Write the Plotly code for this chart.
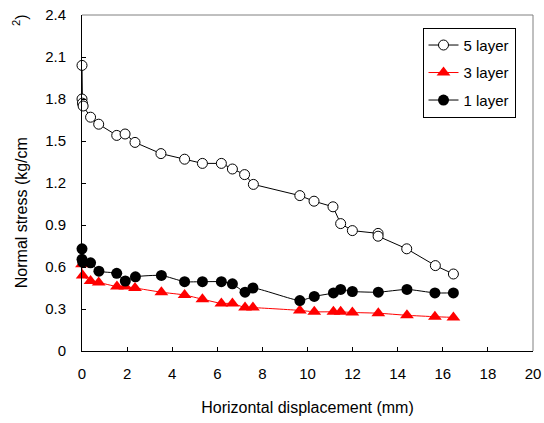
import plotly.graph_objects as go

# Horizontal displacement (mm) and normal stress (kg/cm^2) per layer count
x5 = [0, 0, 0.02, 0.05, 0.38, 0.74, 1.54, 1.91, 2.35, 3.50, 4.55, 5.34, 6.18, 6.67,
      7.21, 7.60, 9.66, 10.29, 11.13, 11.47, 11.99, 13.13, 13.13, 14.40, 15.67, 16.47]
y5 = [2.04, 1.80, 1.77, 1.75, 1.67, 1.62, 1.54, 1.55, 1.49, 1.41, 1.37, 1.34, 1.34, 1.30,
      1.26, 1.19, 1.11, 1.07, 1.03, 0.91, 0.86, 0.84, 0.82, 0.73, 0.61, 0.55]

x3 = [0, 0.03, 0.38, 0.74, 1.55, 1.92, 2.35, 3.52, 4.55, 5.34, 6.18, 6.67, 7.23, 7.58,
      9.66, 10.30, 11.15, 11.47, 11.99, 13.14, 14.41, 15.65, 16.47]
y3 = [0.62, 0.54, 0.50, 0.49, 0.46, 0.46, 0.45, 0.42, 0.40, 0.37, 0.34, 0.34, 0.31, 0.31,
      0.29, 0.28, 0.28, 0.28, 0.275, 0.27, 0.255, 0.245, 0.24]

x1 = [0, 0, 0.03, 0.38, 0.75, 1.54, 1.92, 2.37, 3.52, 4.55, 5.34, 6.18, 6.67, 7.23, 7.58,
      9.66, 10.30, 11.15, 11.47, 11.99, 13.14, 14.41, 15.65, 16.47]
y1 = [0.73, 0.655, 0.635, 0.63, 0.57, 0.555, 0.50, 0.53, 0.54, 0.495, 0.495, 0.495, 0.48,
      0.42, 0.45, 0.36, 0.39, 0.415, 0.44, 0.425, 0.42, 0.44, 0.415, 0.415]

x_ticks = list(range(0, 21, 2))
y_ticks = [0, 0.3, 0.6, 0.9, 1.2, 1.5, 1.8, 2.1, 2.4]
y_tick_text = ["0", "0.3", "0.6", "0.9", "1.2", "1.5", "1.8", "2.1", "2.4"]

FONT = "Liberation Sans, Arial, sans-serif"

fig = go.Figure()
fig.add_trace(go.Scatter(
    x=x5, y=y5, name="5 layer", mode="lines+markers", legendgroup="a",
    line=dict(color="black", width=1),
    marker=dict(symbol="circle", size=10, color="white", line=dict(color="black", width=1)),
    cliponaxis=False))
fig.add_trace(go.Scatter(
    x=x3, y=y3, name="3 layer", mode="lines+markers", legendgroup="b",
    line=dict(color="red", width=1, shape="spline", smoothing=0.5),
    marker=dict(symbol="triangle-up", size=12, color="red"),
    cliponaxis=False))
fig.add_trace(go.Scatter(
    x=x1, y=y1, name="1 layer", mode="lines+markers", legendgroup="c",
    line=dict(color="black", width=1, shape="spline", smoothing=0.5),
    marker=dict(symbol="circle", size=11, color="black"),
    cliponaxis=False))

fig.update_layout(
    width=544, height=423,
    margin=dict(l=82, r=11, t=15, b=72),
    paper_bgcolor="white", plot_bgcolor="white",
    font=dict(family=FONT, size=15, color="black"),
    showlegend=True,
    legend=dict(x=0.755, y=0.962, xanchor="left", yanchor="top",
                bordercolor="black", borderwidth=1, bgcolor="white",
                font=dict(size=15), tracegroupgap=5, traceorder="grouped"),
    xaxis=dict(range=[0, 20], tickvals=x_ticks, ticks="inside", ticklen=4,
               tickcolor="black", showline=True, linecolor="black", linewidth=1,
               showgrid=False, zeroline=False, ticklabelstandoff=9,
               tickfont=dict(size=15), automargin=False,
               title=dict(text="Horizontal displacement (mm)", standoff=20,
                          font=dict(size=16))),
    yaxis=dict(range=[0, 2.4], tickvals=y_ticks, ticktext=y_tick_text,
               ticks="inside", ticklen=4, tickcolor="black",
               showline=True, linecolor="black", linewidth=1,
               showgrid=False, zeroline=False, ticklabelstandoff=12,
               tickfont=dict(size=15), automargin=False),
)

# Y axis title, with the superscript set apart as in the original layout
fig.add_annotation(
    text="Normal stress (kg/cm" + "\u00a0" * 25 + "<sup>2</sup>)",
    textangle=-90, xref="paper", yref="paper", x=-0.137, y=0.1815,
    xanchor="center", yanchor="bottom", showarrow=False,
    font=dict(size=16, family=FONT))

# Light frame on the top and right sides of the plot area
fig.add_shape(type="line", xref="paper", yref="paper", x0=0, x1=1, y0=1, y1=1,
              line=dict(color="#808080", width=1))
fig.add_shape(type="line", xref="paper", yref="paper", x0=1, x1=1, y0=0, y1=1,
              line=dict(color="#808080", width=1))

fig.write_html("out.html")
